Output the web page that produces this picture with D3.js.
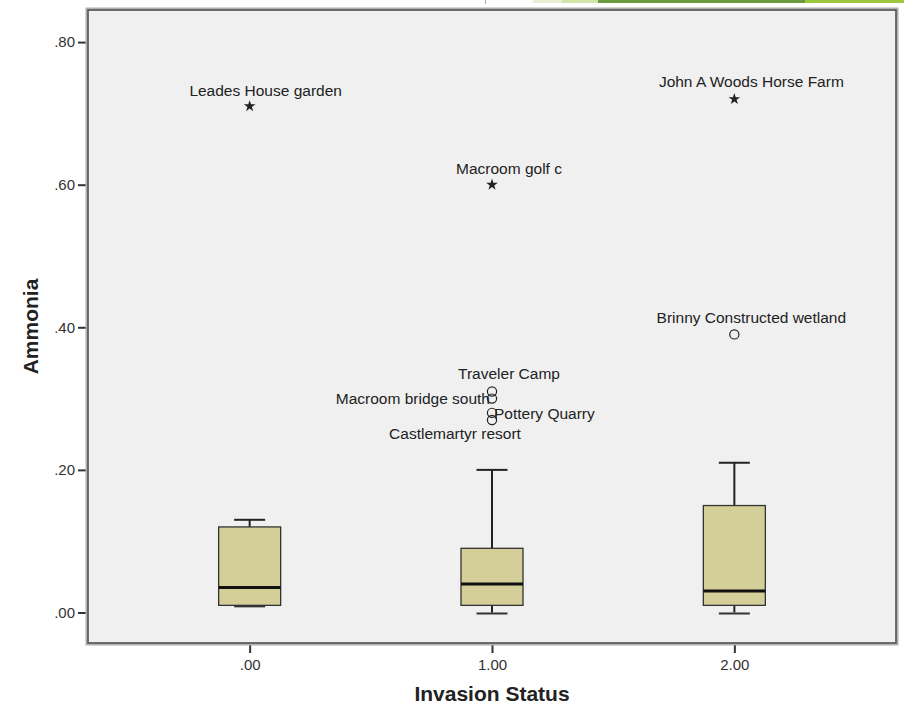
<!DOCTYPE html>
<html>
<head>
<meta charset="utf-8">
<script src="https://cdn.jsdelivr.net/npm/d3@7"></script>
<style>
  html, body { margin: 0; padding: 0; background: #ffffff; }
  svg { display: block; font-family: "Liberation Sans", Arial, sans-serif; }
</style>
</head>
<body>
<svg id="chart" width="904" height="707"></svg>
<script>
// Ammonia by invasion status: box summaries per group
const categories = ['.00', '1.00', '2.00'];
const whiskerLow  = [0.01, 0.00, 0.00];
const quartile1   = [0.01, 0.01, 0.01];
const medians     = [0.035, 0.04, 0.03];
const quartile3   = [0.12, 0.09, 0.15];
const whiskerHigh = [0.13, 0.20, 0.21];

// Flagged cases: group index, value, site name, kind (extreme = star, outlier = circle)
const caseGroup = [0, 1, 2, 2, 1, 1, 1, 1];
const caseValue = [0.71, 0.60, 0.72, 0.39, 0.31, 0.30, 0.28, 0.27];
const caseName  = ['Leades House garden', 'Macroom golf c', 'John A Woods Horse Farm',
                   'Brinny Constructed wetland', 'Traveler Camp', 'Macroom bridge south',
                   'Pottery Quarry', 'Castlemartyr resort'];
const caseKind  = ['extreme', 'extreme', 'extreme', 'outlier', 'outlier', 'outlier', 'outlier', 'outlier'];

const yTicks = [0, 0.2, 0.4, 0.6, 0.8];
const xTitle = 'Invasion Status';
const yTitle = 'Ammonia';

// Where each case label sits relative to its marker
const labelPlacement = {
  'Leades House garden':        { dx: 16,  dy: -10, anchor: 'middle' },
  'Macroom golf c':             { dx: 17,  dy: -11, anchor: 'middle' },
  'John A Woods Horse Farm':    { dx: 17,  dy: -12, anchor: 'middle' },
  'Brinny Constructed wetland': { dx: 17,  dy: -11, anchor: 'middle' },
  'Traveler Camp':              { dx: 17,  dy: -12, anchor: 'middle' },
  'Macroom bridge south':       { dx: -2,  dy: 5,   anchor: 'end' },
  'Pottery Quarry':             { dx: 2,   dy: 6,   anchor: 'start' },
  'Castlemartyr resort':        { dx: -37, dy: 19,  anchor: 'middle' }
};

const svg = d3.select('#chart');
const frame = { left: 88, right: 896, top: 10, bottom: 643 };

// Header decoration strip along the top edge
const strip = [
  { x0: 533, x1: 562, c: '#e8f0d3' },
  { x0: 562, x1: 598, c: '#d3e4a8' },
  { x0: 598, x1: 805, c: '#6b9a3f' },
  { x0: 805, x1: 904, c: '#9dc73d' }
];
svg.selectAll('rect.strip').data(strip).enter().append('rect')
  .attr('class', 'strip')
  .attr('x', d => d.x0).attr('y', 0)
  .attr('width', d => d.x1 - d.x0).attr('height', 3)
  .attr('fill', d => d.c);
svg.append('line').attr('x1', 485.5).attr('x2', 485.5).attr('y1', 0).attr('y2', 4)
  .attr('stroke', '#aaa').attr('stroke-width', 1);

const x = d3.scalePoint()
  .domain(categories)
  .range([frame.left, frame.right])
  .padding(0.667);

const y = d3.scaleLinear()
  .domain([-0.0428, 0.845])
  .range([frame.bottom, frame.top]);

// Plot background
svg.append('rect')
  .attr('x', frame.left).attr('y', frame.top)
  .attr('width', frame.right - frame.left).attr('height', frame.bottom - frame.top)
  .attr('fill', '#f0f0f0');

// Boxes
const boxW = 62, capW = 31;
const groups = svg.append('g').selectAll('g').data(categories).enter().append('g')
  .attr('transform', d => `translate(${x(d)},0)`);

groups.append('line')
  .attr('x1', 0).attr('x2', 0)
  .attr('y1', (d, i) => y(whiskerHigh[i])).attr('y2', (d, i) => y(quartile3[i]))
  .attr('stroke', '#222').attr('stroke-width', 2);
groups.append('line')
  .attr('x1', 0).attr('x2', 0)
  .attr('y1', (d, i) => y(quartile1[i])).attr('y2', (d, i) => y(whiskerLow[i]))
  .attr('stroke', '#222').attr('stroke-width', 2);
groups.append('line')
  .attr('x1', -capW / 2).attr('x2', capW / 2)
  .attr('y1', (d, i) => y(whiskerHigh[i])).attr('y2', (d, i) => y(whiskerHigh[i]))
  .attr('stroke', '#222').attr('stroke-width', 2);
groups.append('line')
  .attr('x1', -capW / 2).attr('x2', capW / 2)
  .attr('y1', (d, i) => y(whiskerLow[i]) + 1).attr('y2', (d, i) => y(whiskerLow[i]) + 1)
  .attr('stroke', '#333').attr('stroke-width', 2);
groups.append('rect')
  .attr('x', -boxW / 2).attr('width', boxW)
  .attr('y', (d, i) => y(quartile3[i]))
  .attr('height', (d, i) => y(quartile1[i]) - y(quartile3[i]))
  .attr('fill', '#d4cf98').attr('stroke', '#333').attr('stroke-width', 1.3);
groups.append('line')
  .attr('x1', -boxW / 2).attr('x2', boxW / 2)
  .attr('y1', (d, i) => y(medians[i])).attr('y2', (d, i) => y(medians[i]))
  .attr('stroke', '#111').attr('stroke-width', 3);

// Cases
const cases = caseValue.map((v, i) => ({
  cx: x(categories[caseGroup[i]]), cy: y(v), name: caseName[i], kind: caseKind[i]
}));

const marks = svg.append('g');
marks.selectAll('circle').data(cases.filter(d => d.kind === 'outlier')).enter().append('circle')
  .attr('cx', d => d.cx).attr('cy', d => d.cy).attr('r', 4.6)
  .attr('fill', 'none').attr('stroke', '#222').attr('stroke-width', 1.2);
marks.selectAll('path').data(cases.filter(d => d.kind === 'extreme')).enter().append('path')
  .attr('d', d3.symbol().type(d3.symbolStar).size(42))
  .attr('transform', d => `translate(${d.cx},${d.cy})`)
  .attr('fill', '#222');

svg.append('g').selectAll('text').data(cases).enter().append('text')
  .attr('x', d => d.cx + labelPlacement[d.name].dx)
  .attr('y', d => d.cy + labelPlacement[d.name].dy)
  .attr('text-anchor', d => labelPlacement[d.name].anchor)
  .attr('font-size', '15.5px').attr('fill', '#222')
  .text(d => d.name);

// Axes
const fmt = v => d3.format('.2f')(v).replace(/^0/, '');
const yAxis = svg.append('g')
  .attr('transform', `translate(${frame.left},0)`)
  .call(d3.axisLeft(y).tickValues(yTicks).tickFormat(fmt).tickSize(10).tickPadding(3));
const xAxis = svg.append('g')
  .attr('transform', `translate(0,${frame.bottom})`)
  .call(d3.axisBottom(x).tickSize(10).tickPadding(6));
[yAxis, xAxis].forEach(a => {
  a.select('.domain').remove();
  a.selectAll('.tick line').attr('stroke', '#333').attr('stroke-width', 2);
  a.selectAll('.tick text').attr('font-size', '15px').attr('fill', '#333')
    .attr('font-family', '"Liberation Sans", Arial, sans-serif');
});

// Frame: soft outer edge plus dark rule
svg.append('rect')
  .attr('x', frame.left - 1).attr('y', frame.top - 1)
  .attr('width', frame.right - frame.left + 2).attr('height', frame.bottom - frame.top + 2)
  .attr('fill', 'none').attr('stroke', '#b0b0b0').attr('stroke-width', 3);
svg.append('rect')
  .attr('x', frame.left).attr('y', frame.top)
  .attr('width', frame.right - frame.left).attr('height', frame.bottom - frame.top)
  .attr('fill', 'none').attr('stroke', '#555').attr('stroke-width', 1.6);

// Axis titles
svg.append('text')
  .attr('x', (frame.left + frame.right) / 2).attr('y', 701)
  .attr('text-anchor', 'middle').attr('font-size', '21px').attr('font-weight', 'bold')
  .attr('fill', '#222').text(xTitle);
svg.append('text')
  .attr('transform', `translate(38,${(frame.top + frame.bottom) / 2}) rotate(-90)`)
  .attr('text-anchor', 'middle').attr('font-size', '21px').attr('font-weight', 'bold')
  .attr('fill', '#222').text(yTitle);
</script>
</body>
</html>
